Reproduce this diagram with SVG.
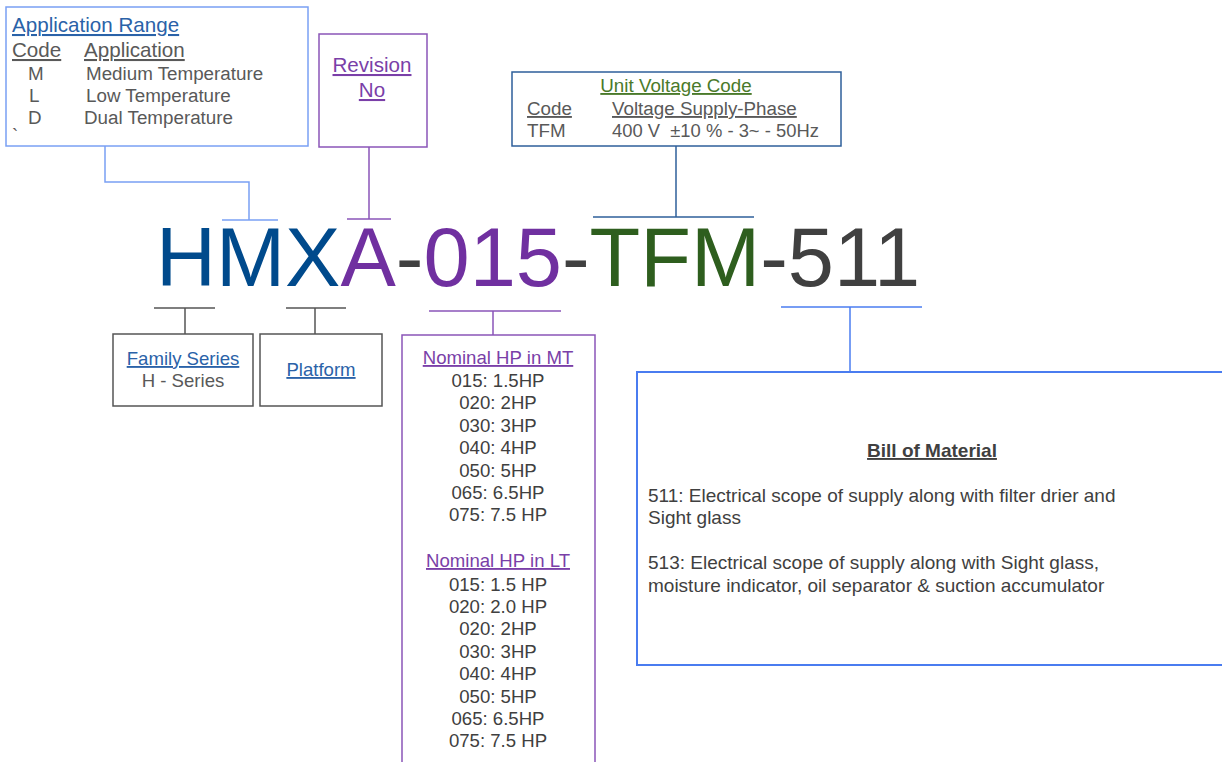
<svg xmlns="http://www.w3.org/2000/svg" width="1222" height="762" viewBox="0 0 1222 762">
<style>
text{font-family:"Liberation Sans",Arial,sans-serif;fill:#404040;white-space:pre}
.u{text-decoration:underline}
.box{fill:none;stroke-width:1.5}
.ln{fill:none;stroke-width:1.5}
.c{text-anchor:middle}
.t18{font-size:18.8px}
.t17{font-size:18.6px}
.t19{font-size:19px}
.t20{font-size:20.6px}
</style>
<rect width="1222" height="762" fill="#ffffff"/>
<g id="connectors">
<polyline class="ln" stroke="#7aa0f4" points="105,146 105,182 249,182 249,220"/>
<line class="ln" stroke="#7aa0f4" x1="222" y1="220" x2="278" y2="220"/>
<line class="ln" stroke="#8a55b8" x1="369" y1="147" x2="369" y2="219"/>
<line class="ln" stroke="#8a55b8" x1="347" y1="219" x2="391" y2="219"/>
<line class="ln" stroke="#2e5f9a" x1="676" y1="146" x2="676" y2="217"/>
<line class="ln" stroke="#2e5f9a" x1="593" y1="217" x2="754" y2="217"/>
<line class="ln" stroke="#555555" x1="154" y1="308" x2="215" y2="308"/>
<line class="ln" stroke="#555555" x1="185" y1="308" x2="185" y2="334"/>
<line class="ln" stroke="#555555" x1="286" y1="308" x2="346" y2="308"/>
<line class="ln" stroke="#555555" x1="315" y1="308" x2="315" y2="334"/>
<line class="ln" stroke="#8a55b8" x1="429" y1="311" x2="561" y2="311"/>
<line class="ln" stroke="#8a55b8" x1="493" y1="311" x2="493" y2="335"/>
<line class="ln" stroke="#4a7cf0" x1="781" y1="307" x2="922" y2="307"/>
<line class="ln" stroke="#4a7cf0" x1="850" y1="307" x2="850" y2="372"/>
</g>
<g id="app-range">
<rect class="box" stroke="#7aa0f4" x="6" y="7" width="302" height="139"/>
<text x="12" y="32" class="u t20" style="fill:#2a62a8">Application Range</text>
<text x="12" y="57" class="u t20" style="fill:#595959">Code</text>
<text x="84" y="57" class="u t20" style="fill:#595959">Application</text>
<text x="28" y="80" class="t18" style="fill:#595959">M</text>
<text x="86" y="80" class="t18" style="fill:#595959">Medium Temperature</text>
<text x="29" y="102" class="t18" style="fill:#595959">L</text>
<text x="86" y="102" class="t18" style="fill:#595959">Low Temperature</text>
<text x="28" y="124" class="t18" style="fill:#595959">D</text>
<text x="84" y="124" class="t18" style="fill:#595959">Dual Temperature</text>
<text x="12" y="142" class="t17" style="fill:#595959">`</text>
</g>
<g id="revision">
<rect class="box" stroke="#8a55b8" x="319" y="34" width="108" height="113"/>
<text x="372" y="72" class="u c t20" style="fill:#7a3fa8">Revision</text>
<text x="372" y="97" class="u c t20" style="fill:#7a3fa8">No</text>
</g>
<g id="voltage">
<rect class="box" stroke="#2e5f9a" x="512" y="72" width="329" height="74"/>
<text x="676" y="92" class="u c t18" style="fill:#4a7a2a">Unit Voltage Code</text>
<text x="527" y="115" class="u t18" style="fill:#595959">Code</text>
<text x="612" y="115" class="u t18" style="fill:#595959">Voltage Supply-Phase</text>
<text x="527" y="137" class="t18" style="fill:#595959">TFM</text>
<text x="612" y="137" class="t18" style="fill:#595959;font-size:18.4px">400 V  ±10 % - 3~ - 50Hz</text>
</g>
<g id="model-code">
<text x="156" y="286" style="font-size:83px"><tspan style="fill:#004a8c">HMX</tspan><tspan style="fill:#7030a0">A</tspan><tspan style="fill:#404040">-</tspan><tspan style="fill:#7030a0">015</tspan><tspan style="fill:#404040">-</tspan><tspan style="fill:#2e5e1e">TFM</tspan><tspan style="fill:#404040">-511</tspan></text>
</g>
<g id="family">
<rect class="box" stroke="#555555" x="113" y="334" width="140" height="72"/>
<text x="183" y="365" class="u c t17" style="fill:#2a62a8">Family Series</text>
<text x="183" y="387" class="c t17" style="fill:#595959">H - Series</text>
</g>
<g id="platform">
<rect class="box" stroke="#555555" x="260" y="334" width="122" height="72"/>
<text x="321" y="376" class="u c t17" style="fill:#2a62a8">Platform</text>
</g>
<g id="nominal-hp">
<rect class="box" stroke="#8a55b8" x="402" y="335" width="193" height="440"/>
<text x="498" y="364" class="u c t17" style="fill:#7a3fa8">Nominal HP in MT</text>
<text x="498" y="387" class="c t17">015: 1.5HP</text>
<text x="498" y="409" class="c t17">020: 2HP</text>
<text x="498" y="432" class="c t17">030: 3HP</text>
<text x="498" y="454" class="c t17">040: 4HP</text>
<text x="498" y="477" class="c t17">050: 5HP</text>
<text x="498" y="499" class="c t17">065: 6.5HP</text>
<text x="498" y="521" class="c t17">075: 7.5 HP</text>
<text x="498" y="567" class="u c t17" style="fill:#7a3fa8">Nominal HP in LT</text>
<text x="498" y="591" class="c t17">015: 1.5 HP</text>
<text x="498" y="613" class="c t17">020: 2.0 HP</text>
<text x="498" y="635" class="c t17">020: 2HP</text>
<text x="498" y="658" class="c t17">030: 3HP</text>
<text x="498" y="680" class="c t17">040: 4HP</text>
<text x="498" y="703" class="c t17">050: 5HP</text>
<text x="498" y="725" class="c t17">065: 6.5HP</text>
<text x="498" y="747" class="c t17">075: 7.5 HP</text>
</g>
<g id="bom">
<rect class="box" stroke="#4a7cf0" x="637" y="372" width="600" height="293" style="stroke-width:2"/>
<text x="932" y="457" class="u c t19" style="font-weight:bold">Bill of Material</text>
<text x="648" y="502" class="t19">511: Electrical scope of supply along with filter drier and</text>
<text x="648" y="524" class="t19">Sight glass</text>
<text x="648" y="592" class="t19">moisture indicator, oil separator &amp; suction accumulator</text>
<text x="648" y="569" class="t19">513: Electrical scope of supply along with Sight glass,</text>
</g>
</svg>
